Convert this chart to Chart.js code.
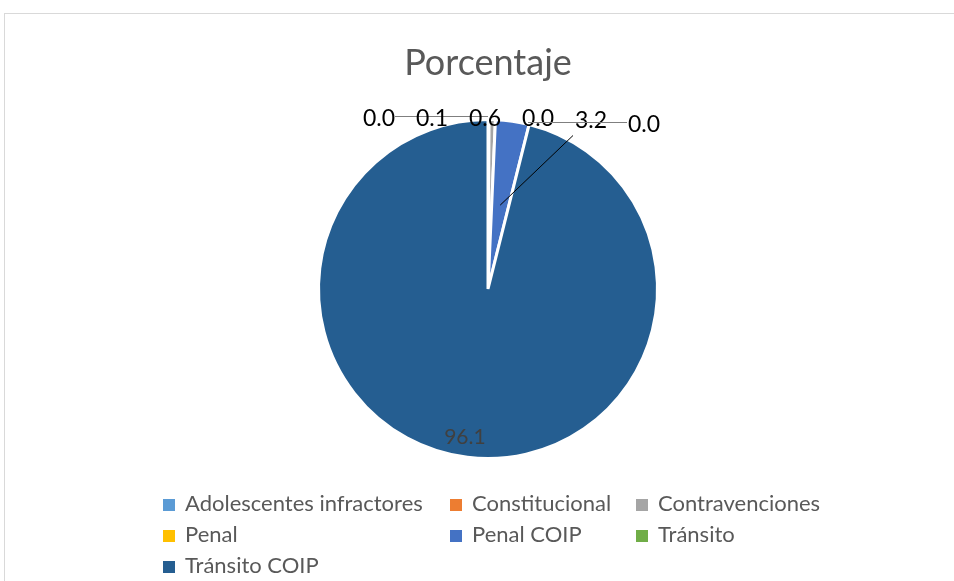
<!DOCTYPE html>
<html>
<head>
<meta charset="utf-8">
<script src="https://cdn.jsdelivr.net/npm/chart.js@4.4.0/dist/chart.umd.min.js"></script>
<style>
  body { margin: 0; background: #fff; font-family: Lato, "Liberation Sans", sans-serif; }
  #wrap { position: relative; width: 954px; height: 581px; overflow: hidden; }
  #frame { position: absolute; left: 4px; top: 13px; width: 960px; height: 600px; border: 1px solid #d9d9d9; }
  #title { position: absolute; left: 0; width: 976px; top: 39px; text-align: center; font-size: 36px; color: #595959; }
  canvas { position: absolute; left: 0; top: 0; }
  .leg { position: absolute; font-size: 22px; color: #595959; line-height: 26px; white-space: nowrap; }
  .leg span { display: inline-block; width: 12px; height: 12px; margin-right: 10px; vertical-align: 0px; }
</style>
</head>
<body>
<div id="wrap">
  <div id="frame"></div>
  <canvas id="pieChart" width="954" height="581"></canvas>
  <div id="title">Porcentaje</div>
</div>
<script>
var categories = ['Adolescentes infractores','Constitucional','Contravenciones','Penal','Penal COIP','Tránsito','Tránsito COIP'];
var porcentaje = [0.0, 0.1, 0.6, 0.0, 3.2, 0.0, 96.1];
var colors = ['#5B9BD5','#ED7D31','#A5A5A5','#FFC000','#4472C4','#70AD47','#255E91'];

// legend in three columns like the original
var legCols = [163, 450, 636];
var legRows = [490, 521, 552];
var wrap = document.getElementById('wrap');
categories.forEach(function (name, i) {
  var d = document.createElement('div');
  d.className = 'leg';
  d.style.left = legCols[i % 3] + 'px';
  d.style.top = legRows[Math.floor(i / 3)] + 'px';
  d.innerHTML = '<span style="background:' + colors[i] + '"></span>' + name;
  wrap.appendChild(d);
});

var labelPlugin = {
  id: 'labelPlugin',
  afterDatasetsDraw: function (chart) {
    var ctx = chart.ctx;
    var arcs = chart.getDatasetMeta(0).data;
    var cx = arcs[0].x, cy = arcs[0].y, r = arcs[0].outerRadius;
    ctx.save();
    ctx.font = '23px Lato, "Liberation Sans", sans-serif';
    ctx.textAlign = 'center';
    ctx.textBaseline = 'middle';
    var small = arcs.length - 1;
    for (var i = 0; i < small; i++) {
      var a = arcs[i];
      var mid = (a.startAngle + a.endAngle) / 2;
      var lx = cx - 109 + i * 53;
      var ly = cy - r - 1 + (i == 4 ? 2 : 0) + (i == 5 ? 6 : 0);
      var txt = porcentaje[i].toFixed(1);
      ctx.lineWidth = 1;
      if (i == 4) {
        var px = cx + Math.cos(mid) * r * 0.5, py = cy + Math.sin(mid) * r * 0.5;
        ctx.strokeStyle = '#000';
        ctx.beginPath(); ctx.moveTo(lx - 18, ly + 15); ctx.lineTo(px, py); ctx.stroke();
      } else if (i == 0) {
        ctx.strokeStyle = '#7f7f7f';
        ctx.beginPath(); ctx.moveTo(lx + 16, ly - 2); ctx.lineTo(cx + Math.cos(mid) * r, ly - 2); ctx.stroke();
      } else if (i == 5) {
        ctx.strokeStyle = '#7f7f7f';
        ctx.beginPath(); ctx.moveTo(lx - 17, ly - 2); ctx.lineTo(cx + 40, ly - 2); ctx.stroke();
      }
      ctx.fillStyle = '#000';
      ctx.fillText(txt, lx, ly);
    }
    var big = arcs[small];
    var m = (big.startAngle + big.endAngle) / 2;
    ctx.font = '21px Lato, "Liberation Sans", sans-serif';
    ctx.fillStyle = '#404040';
    ctx.fillText(porcentaje[small].toFixed(1), cx + Math.cos(m) * r * 0.92 - 4, cy + Math.sin(m) * r * 0.88);
    ctx.restore();
  }
};

var ctxP = document.getElementById('pieChart').getContext('2d');
var myChart = new Chart(ctxP, {
  type: 'pie',
  data: {
    labels: categories,
    datasets: [{
      data: porcentaje,
      backgroundColor: colors,
      borderColor: '#ffffff',
      borderWidth: 3
    }]
  },
  options: {
    responsive: false,
    animation: false,
    layout: { padding: { top: 118, bottom: 121, left: 317, right: 295 } },
    plugins: {
      legend: { display: false },
      tooltip: { enabled: false }
    }
  },
  plugins: [labelPlugin]
});
</script>
</body>
</html>
